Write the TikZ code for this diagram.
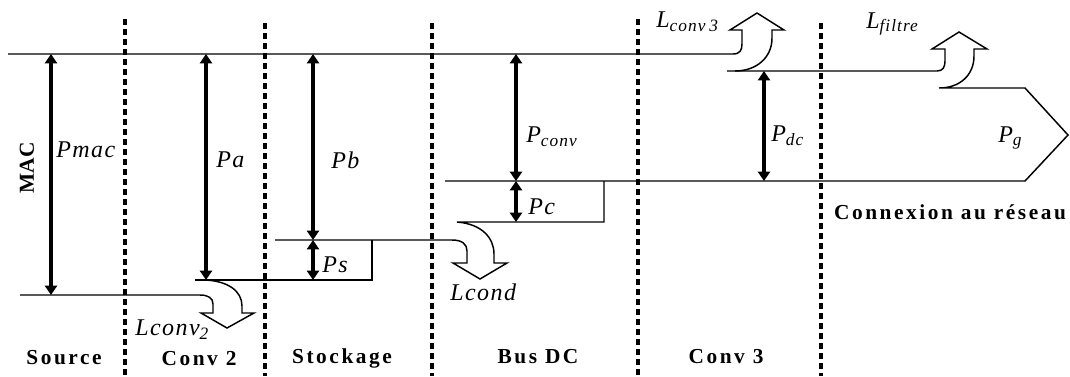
\documentclass[tikz,border=0pt]{standalone}
\usepackage{fontspec}
\setmainfont{Liberation Serif}
\usetikzlibrary{arrows.meta}
\newcommand\sbs[1]{\raisebox{-0.35ex}{\fontsize{13}{15}\selectfont #1}}
\begin{document}
\begin{tikzpicture}[x=0.75pt,y=-0.75pt,
  flow/.style={line width=1.1pt, line join=miter},
  sep/.style={line width=2.3pt, dash pattern=on 4.5pt off 3pt},
  pw/.style={line width=2.6pt, {Triangle[length=7pt,width=9pt]}-{Triangle[length=7pt,width=9pt]}},
  zone/.style={font=\fontsize{16}{19}\selectfont\bfseries\addfontfeature{LetterSpace=12}, inner sep=0},
  qty/.style={font=\fontsize{18}{21}\selectfont\itshape\addfontfeature{LetterSpace=6}, inner sep=0, anchor=west},
]
\useasboundingbox (0,0) rectangle (1070,376);

% separators
\foreach \n/\x/\y in {s1/125/19, s2/265/23, s3/432/23, s4/638/19, s5/821/23}{
  \coordinate (\n t) at (\x,\y);
  \coordinate (\n b) at (\x,376);
  \draw[sep] (\n t) -- (\n b);
}

% level coordinates
\coordinate (top0) at (8,54);
\coordinate (top1) at (733,54);
\coordinate (dc0) at (727,71);
\coordinate (dc1) at (937,71);
\coordinate (g0) at (939,88);
\coordinate (g1) at (1025,88);
\coordinate (gtip) at (1068,135);
\coordinate (g2) at (1025,181);
\coordinate (bus0) at (445,181);
\coordinate (c0) at (604,181);
\coordinate (c1) at (604,222);
\coordinate (c2) at (457,222);
\coordinate (st0) at (275,240);
\coordinate (st1) at (452,240);
\coordinate (s0) at (372,240);
\coordinate (s1) at (372,280);
\coordinate (a0) at (195,280);
\coordinate (a1) at (205,280);
\coordinate (m0) at (20,295);
\coordinate (m1) at (200,295);

% top line and L conv 3
\draw[flow] (top0) -- (top1) .. controls (740,54) and (742,50) .. (742,44) -- (742,30)
  -- (730,30) -- (757,13) -- (784,30) -- (772,30) -- (772,38)
  .. controls (772,58) and (756,71) .. (735,71);
% DC line, L filtre and Pg
\draw[flow] (dc0) -- (dc1) .. controls (943,71) and (945,67) .. (945,61) -- (945,49)
  -- (932,49) -- (959,32) -- (987,49) -- (974,49) -- (974,56)
  .. controls (974,75) and (960,88) .. (g0) -- (g1) -- (gtip) -- (g2) -- (bus0);
% Pc box and L cond
\draw[flow] (c0) -- (c1) -- (c2) .. controls (482,224) and (494,238) .. (494,254) -- (494,263)
  -- (507,263) -- (480,279) -- (453,263) -- (467,263) -- (467,251)
  .. controls (467,244) and (462,240) .. (st1) -- (st0);
% Ps box
\draw[flow] (a0) -- (s1) -- (s0);
% source line and L conv 2
\draw[flow] (m0) -- (m1) .. controls (208,295) and (213,298) .. (213,304) -- (213,313)
  -- (201,313) -- (227,328) -- (254,313) -- (242,313) -- (242,306)
  .. controls (242,291) and (228,281) .. (a1);

% power arrows
\coordinate (pmac-t) at (51,54);   \coordinate (pmac-b) at (51,295);
\coordinate (pa-t) at (206,54);    \coordinate (pa-b) at (206,280);
\coordinate (pb-t) at (313,54);    \coordinate (pb-b) at (313,240);
\coordinate (ps-b) at (313,280);
\coordinate (pconv-t) at (516,54); \coordinate (pconv-b) at (516,181);
\coordinate (pc-b) at (516,222);
\coordinate (pdc-t) at (764,71);   \coordinate (pdc-b) at (764,181);
\draw[pw] (pmac-t) -- (pmac-b);
\draw[pw] (pa-t) -- (pa-b);
\draw[pw] (pb-t) -- (pb-b);
\draw[pw] (pb-b) -- (ps-b);
\draw[pw] (pconv-t) -- (pconv-b);
\draw[pw] (pconv-b) -- (pc-b);
\draw[pw] (pdc-t) -- (pdc-b);

% quantity labels
\node[qty] (lmac) at (56,150) {Pmac};
\node[qty] (la) at (216,160) {Pa};
\node[qty] (lb) at (331,160) {Pb};
\node[qty] (lconv) at (526,137) {P\sbs{conv}};
\node[qty] (lc) at (528,207) {Pc};
\node[qty] (ls) at (322,265) {Ps};
\node[qty] (ldc) at (771,136) {P\sbs{dc}};
\node[qty] (lg) at (998,138) {P\sbs{g}};
\node[qty] (lc3) at (656,22) {L\sbs{conv\kern3pt 3}};
\node[qty] (lf) at (866,24) {L\sbs{filtre}};
\node[qty] (lcond) at (450,292) {Lcond};
\node[qty] (lc2) at (135,330) {Lconv\sbs{2}};

% zone labels
\node[font=\fontsize{16}{19}\selectfont\bfseries, inner sep=0, rotate=90] (mac) at (27,168) {MAC};
\node[zone] (zsrc) at (64,358) {Source};
\node[zone] (zc2) at (199,359) {Conv 2};
\node[zone] (zst) at (342,358) {Stockage};
\node[zone] (zbus) at (538,357) {Bus DC};
\node[zone] (zc3) at (726,357) {Conv 3};
\node[zone] (zres) at (950,212) {Connexion au réseau};
\end{tikzpicture}
\end{document}
